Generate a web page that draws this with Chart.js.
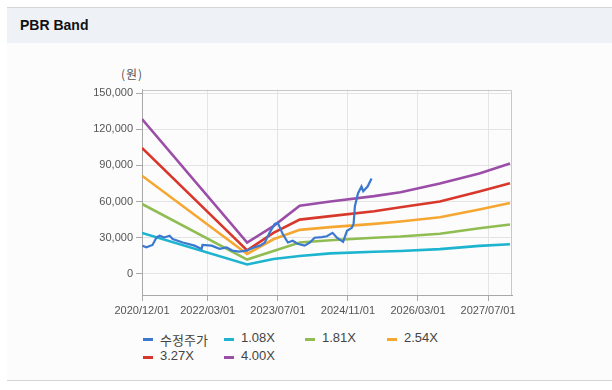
<!DOCTYPE html>
<html>
<head>
<meta charset="utf-8">
<script src="https://cdn.jsdelivr.net/npm/chart.js@4.4.1/dist/chart.umd.min.js"></script>
<style>
    body {
        margin: 0;
        width: 612px;
        height: 390px;
        background: #fff;
        position: relative;
        overflow: hidden;
        font-family: "Liberation Sans", Arial, "Noto Sans CJK KR", sans-serif;
    }
    .top-line { position: absolute; left: 7px; top: 7px; width: 605px; height: 1px; background: #d4d4d4; }
    .header { position: absolute; left: 7px; top: 8px; width: 605px; height: 35px; background: #eef2f7; }
    .header span { position: absolute; left: 13px; top: 9px; font-weight: bold; font-size: 14px; color: #111; }
    .panel { position: absolute; left: 7px; top: 43px; width: 605px; height: 337px; background: #fcfcfc; }
    .bottom-line { position: absolute; left: 7px; top: 380px; width: 605px; height: 1px; background: #d4d4d4; }
    .unit { position: absolute; left: 121px; top: 65px; font-size: 12px; color: #555; letter-spacing: 1px;
            font-family: "Noto Sans CJK KR", sans-serif; }
    #chartBox { position: absolute; left: 0; top: 80px; width: 530px; height: 240px; }
    .legend-item { position: absolute; font-size: 13px; color: #444; white-space: nowrap;
                   font-family: "Liberation Sans", Arial, "Noto Sans CJK KR", sans-serif; }
    .legend-item i { position: absolute; left: 0; top: 8px; width: 10px; height: 3px; }
    .legend-item b { position: absolute; left: 17px; top: 0; font-weight: normal; }
</style>
</head>
<body>
<div class="top-line"></div>
<div class="header"><span>PBR Band</span></div>
<div class="panel"></div>
<div class="bottom-line"></div>
<div class="unit">(원)</div>
<div id="chartBox"><canvas id="pbr"></canvas></div>
<div id="legend"></div>

<script>
    // months counted from 2020/12/01
    const xTickMonths = [0, 15, 31, 47, 63, 79];
    const xTickLabels = ['2020/12/01', '2022/03/01', '2023/07/01', '2024/11/01', '2026/03/01', '2027/07/01'];
    const yTicks = [0, 30000, 60000, 90000, 120000, 150000];

    // 수정주가
    const priceMonths = [0.1, 1.0, 2.4, 3.3, 4.0, 5.1, 6.3, 7.0, 9.3, 12.0, 13.6, 13.8, 15.9, 17.7, 19.3, 20.6,
        22.2, 23.8, 25.7, 26.9, 28.0, 29.1, 30.3, 31.0, 32.1, 33.3, 34.4, 35.5, 37.1, 38.3, 39.4, 41.0,
        42.2, 43.5, 44.5, 45.9, 46.8, 47.9, 48.3, 48.6, 49.3, 50.1, 50.5, 51.5, 52.4];
    const priceValues = [23400, 22000, 24000, 30200, 31600, 30200, 31600, 28900, 26000, 23400, 20700, 24000,
        23400, 20700, 22000, 19300, 18500, 19300, 22000, 23400, 25900, 34000, 41500, 42300, 33200, 26000,
        27500, 25000, 23400, 25900, 30000, 30500, 31200, 34000, 30000, 26500, 35700, 38200, 41500, 56200,
        66700, 72500, 68600, 72500, 79200];

    // PBR bands
    const bandMonths = [0, 24, 30, 36, 43, 53, 59, 68, 77, 84];
    const band108 = [34000, 7800, 12300, 14800, 17000, 18300, 19000, 20500, 23200, 24600];
    const band181 = [58000, 11800, 19000, 26000, 27900, 30000, 31000, 33300, 37800, 41000];
    const band254 = [81500, 16500, 28700, 36500, 38800, 41500, 43500, 47000, 53400, 58800];
    const band327 = [104500, 19500, 34000, 45000, 47900, 52000, 55300, 60000, 68400, 75200];
    const band400 = [128600, 26000, 39600, 56600, 60000, 64500, 67800, 75000, 83400, 91600];

    const seriesNames = ['수정주가', '1.08X', '1.81X', '2.54X', '3.27X', '4.00X'];
    const seriesColors = ['#3b78cf', '#1db4cf', '#8fbd52', '#f5a732', '#d8372c', '#9b4ea8'];

    function toPoints(xs, ys) {
        return xs.map((x, i) => ({x: x, y: ys[i]}));
    }

    const bands = [band108, band181, band254, band327, band400];
    const datasets = [{
        label: seriesNames[0],
        data: toPoints(priceMonths, priceValues),
        borderColor: seriesColors[0],
        borderWidth: 2.2
    }];
    bands.forEach((b, i) => {
        datasets.push({
            label: seriesNames[i + 1],
            data: toPoints(bandMonths, b),
            borderColor: seriesColors[i + 1],
            borderWidth: 2.6
        });
    });

    const frame = {
        id: 'frame',
        beforeDatasetsDraw(chart) {
            const a = chart.chartArea;
            const ctx = chart.ctx;
            ctx.save();
            ctx.strokeStyle = '#c8c8c8';
            ctx.lineWidth = 1;
            ctx.beginPath();
            ctx.moveTo(Math.round(a.left) + 0.5, Math.round(a.top) + 0.5);
            ctx.lineTo(Math.round(a.right) - 0.5, Math.round(a.top) + 0.5);
            ctx.lineTo(Math.round(a.right) - 0.5, Math.round(a.bottom));
            ctx.stroke();
            ctx.restore();
        }
    };

    new Chart(document.getElementById('pbr'), {
        type: 'line',
        data: {datasets: datasets},
        options: {
            responsive: true,
            maintainAspectRatio: false,
            animation: false,
            layout: {padding: {top: 7, right: 18, bottom: 0, left: 0}},
            elements: {
                point: {radius: 0},
                line: {tension: 0, fill: false}
            },
            plugins: {
                legend: {display: false},
                tooltip: {enabled: false}
            },
            scales: {
                x: {
                    type: 'linear',
                    min: 0,
                    max: 84.46,
                    afterBuildTicks: (axis) => {
                        axis.ticks = xTickMonths.map(v => ({value: v}));
                    },
                    afterFit: (axis) => {
                        axis.height = 25;
                    },
                    ticks: {
                        autoSkip: false,
                        maxRotation: 0,
                        padding: 3,
                        color: '#555',
                        font: {family: '"Liberation Sans", Arial, sans-serif', size: 11},
                        callback: (v, i) => xTickLabels[i]
                    },
                    grid: {color: '#e4e4e4', tickColor: '#aaa', tickLength: 6},
                    border: {color: '#a8a8a8'}
                },
                y: {
                    min: -17600,
                    max: 153000,
                    afterBuildTicks: (axis) => {
                        axis.ticks = yTicks.map(v => ({value: v}));
                    },
                    afterFit: (axis) => {
                        axis.width = 142;
                    },
                    ticks: {
                        padding: 3,
                        color: '#555',
                        font: {family: '"Liberation Sans", Arial, sans-serif', size: 11},
                        callback: (v) => v.toLocaleString('en-US')
                    },
                    grid: {color: '#e4e4e4', tickColor: '#aaa', tickLength: 6},
                    border: {color: '#a8a8a8'}
                }
            }
        },
        plugins: [frame]
    });

    // legend laid out in the same grid as the original page
    const legendSpots = [[143, 330], [224, 330], [305, 330], [387, 330], [143, 348], [224, 348]];
    const legend = document.getElementById('legend');
    seriesNames.forEach((name, i) => {
        const item = document.createElement('div');
        item.className = 'legend-item';
        item.style.left = legendSpots[i][0] + 'px';
        item.style.top = legendSpots[i][1] + 'px';
        item.innerHTML = '<i style="background:' + seriesColors[i] + '"></i><b>' + name + '</b>';
        legend.appendChild(item);
    });
</script>
</body>
</html>
